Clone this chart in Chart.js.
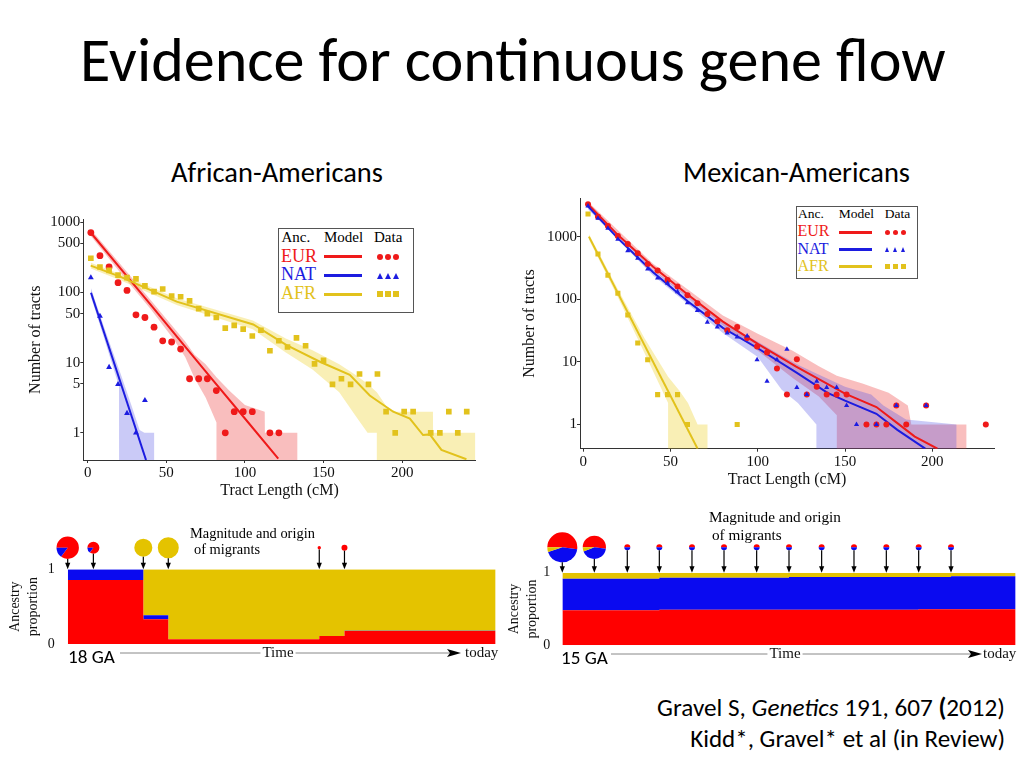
<!DOCTYPE html>
<html>
<head>
<meta charset="utf-8">
<script src="https://cdn.jsdelivr.net/npm/chart.js@4.4.1/dist/chart.umd.min.js"></script>
<style>
html, body { margin: 0; padding: 0; background: #fff; width: 1024px; height: 768px; overflow: hidden; position: relative; }
canvas { position: absolute; }
.txt { position: absolute; left: 0; top: 0; white-space: nowrap; line-height: 1; }
.box { position: absolute; border: 1px solid #555; background: #fff; box-sizing: border-box; }
.mk { position: absolute; }
</style>
</head>
<body>
<canvas id="aa_tracts" width="465" height="300" style="left:20px;top:205px"></canvas>
<canvas id="ma_tracts" width="490" height="300" style="left:515px;top:190px"></canvas>
<canvas id="aa_ancestry" width="510" height="180" style="left:0px;top:500px"></canvas>
<canvas id="ma_ancestry" width="519" height="180" style="left:505px;top:500px"></canvas>
<script>
// ---- African-Americans, tract length histogram (cM, counts) ----
const aa_bins = [2, 7.8, 13.6, 19.3, 25, 30.7, 36.4, 42.2, 47.7, 53.4, 59.1, 64.8, 70.6, 76.1, 81.8, 87.5, 93.2, 98.9, 104.7, 110.2, 115.9, 121.6, 127.1, 132.8, 138.6, 144.3, 150, 155.7, 161.4, 167.2, 172.9, 178.6, 184.3, 189.8, 195.6, 201.3, 207, 212.6, 218.2, 224, 229.7, 235.4, 241.1]
const aa_eur = [713, 335, 231, 138, 107, 48, 44, 32, 20.5, 19.7, 15.6, 5.9, 5.9, 5.9, 4, 1, 2, 2, 2, null, 1, 1]
const aa_nat = [163, 46, 8.6, 4.9, 1.9, 1, 2.9]
const aa_afr = [307, 231, 207, 177, 163, 156, 124, 103, 112, 89, 87, 76, 59, 50, 44, 31, 34, 30, 24, 29, 14.8, 20.5, 16.7, 22.6, 17.4, 9.6, 10.8, 4.9, 5.9, 4.9, 6.9, 4.9, 6.9, 2, 1, 2, 2, null, 1, 1, 2, 1, 2]

const aa_eur_model_x = [2, 20, 40, 60, 80, 100, 121.2]
const aa_eur_model = [710, 231, 67, 19.2, 5.5, 1.6, 0.43]
const aa_nat_model_x = [2.1, 37.1]
const aa_nat_model = [99, 0.41]
const aa_afr_model_x = [1.9, 20.6, 56.6, 105.3, 126.5, 147.7, 166.7, 179.4, 194.3, 204.9, 213.3, 217.6, 225, 240.9]
const aa_afr_model = [241, 168, 74, 35, 17.8, 10.3, 6.7, 3.4, 2, 1.6, 0.93, 0.95, 0.57, 0.42]

const aa_eur_band_x = [2, 20, 40, 55, 62, 68, 75, 81.9, 82, 90, 100, 112.6, 112.7, 133.5]
const aa_eur_band_hi = [790, 265, 78, 31, 20, 13, 9.5, 6.2, 6.2, 4, 2.5, 2, 1, 1]
const aa_eur_band_lo = [640, 200, 58, 21, 12, 6, 3.2, 1.4, 0.1, 0.1, 0.1, 0.1, 0.1, 0.1]
const aa_nat_band_x = [2.1, 10, 19.9, 20, 28, 33, 36, 42.4]
const aa_nat_band_hi = [115, 34, 8, 8, 2.4, 1.1, 1, 1]
const aa_nat_band_lo = [86, 24, 4.6, 0.1, 0.1, 0.1, 0.1, 0.1]
const aa_afr_band_x = [2, 20, 57, 105, 126, 143, 160, 170, 178, 183.9, 184, 190, 196, 219.6, 219.7, 246.6]
const aa_afr_band_hi = [265, 185, 82, 40, 22, 15, 9.5, 6.8, 5, 3.8, 3.8, 2.4, 2, 2, 1, 1]
const aa_afr_band_lo = [220, 152, 66, 30, 14, 8, 3.8, 1.8, 1, 1, 0.1, 0.1, 0.1, 0.1, 0.1, 0.1]

// ---- Mexican-Americans ----
const ma_bins = [2.7, 8.4, 14.1, 19.8, 25.5, 31.2, 36.9, 42.6, 48.3, 54, 59.7, 65.4, 71.1, 76.8, 82.5, 88.2, 93.9, 99.6, 105.3, 111, 116.7, 122.4, 128.1, 133.8, 139.5, 145.2, 150.9, 156.6, 162.3, 168, 173.7, 179.4, 185.1, 190.8, 196.5, 202.2, 207.9, 213.6, 219.3, 225, 230.7]
const ma_eur = [3280, 2080, 1480, 1025, 764, 542, 366, 287, 204, 160, 116, 86, 58, 44, 32, 36, 24, 17.6, 14.1, 7.8, 3, 11, 3, 4, 3, 3, 3, null, 1, 1, 1, 2, 1, null, 2, null, null, null, null, null, 1]
const ma_nat = [3080, 1960, 1360, 906, 598, 451, 305, 219, 180, 132, 88, 66, 43, 36, 29, 25, 26, 10.8, 4.9, 10.8, 15.9, 3.9, 3, 4.9, 3.9, 3.9, 2, 1, null, 1, null, 2, null, null, 2]
const ma_afr = [2300, 529, 242, 125, 56, 20, 10.8, 3, 3, 3, 1, null, null, null, null, 1]

const ma_eur_model_x = [2.7, 20, 40, 60, 80, 100, 122, 150, 168, 180, 190, 203]
const ma_eur_model = [3300, 1050, 330, 118, 44, 19.4, 8.4, 3.1, 1.9, 1.05, 0.64, 0.41]
const ma_nat_model_x = [2.7, 20, 40, 60, 80, 100, 122, 140, 150, 168, 180, 196]
const ma_nat_model = [3050, 930, 270, 92, 35, 16.5, 6.8, 3.2, 2.4, 1.48, 0.82, 0.41]
const ma_afr_model_x = [3.2, 65.5]
const ma_afr_model = [1000, 0.41]

const ma_eur_band_x = [2.7, 40, 80, 100, 120, 135, 145.3, 145.4, 160, 175, 186, 188, 219.7]
const ma_eur_band_hi = [3600, 370, 55, 28, 15, 8.5, 6, 6, 4.5, 3.2, 2, 1, 1]
const ma_eur_band_lo = [3000, 290, 38, 15, 5.5, 2.8, 1.4, 0.1, 0.1, 0.1, 0.1, 0.1, 0.1]
const ma_nat_band_x = [2.7, 40, 80, 100, 113.7, 123, 133.6, 133.7, 150, 165, 172, 185, 214]
const ma_nat_band_hi = [3400, 300, 42, 21, 12.5, 9, 6.5, 6.5, 4, 3, 2, 1.2, 1]
const ma_nat_band_lo = [2750, 240, 29, 12, 3.6, 2.2, 1, 0.1, 0.1, 0.1, 0.1, 0.1, 0.1]
const ma_afr_band_x = [3.2, 20, 35, 48.6, 48.7, 55, 60, 65.5, 71.3]
const ma_afr_band_hi = [1100, 140, 24, 5.8, 5.8, 3.5, 2.2, 1, 1]
const ma_afr_band_lo = [900, 105, 14, 2.2, 0.1, 0.1, 0.1, 0.1, 0.1]

// ---- ancestry proportions through time (generations ago) ----
const aa_gens = [18, 16.92, 14.82, 13.77, 7.42, 6.36, 0]
const aa_prop_eur = [0.857, 0.857, 0.33, 0.0625, 0.107, 0.174, 0.174]
const aa_prop_nat = [0.143, 0.143, 0.054, 0, 0, 0.004, 0.004]
const aa_prop_afr = [0, 0, 0.616, 0.9375, 0.893, 0.822, 0.822]
const aa_pulse_gens = [18, 16.92, 14.82, 13.77, 7.42, 6.36]
const aa_pulse_size = [1, 0.29, 0.65, 0.88, 0.023, 0.072]
const aa_pulse_eur = [0.85, 0.85, 0, 0, 1, 1]
const aa_pulse_nat = [0.15, 0.15, 0, 0, 0, 0]
const aa_pulse_afr = [0, 0, 1, 1, 0, 0]

const ma_gens = [15, 13.94, 12.85, 11.79, 10.71, 9.65, 8.57, 7.5, 6.42, 5.35, 4.28, 3.21, 2.14, 0]
const ma_prop_eur = [0.482, 0.482, 0.482, 0.49, 0.49, 0.49, 0.49, 0.49, 0.49, 0.49, 0.49, 0.495, 0.495, 0.495]
const ma_prop_nat = [0.433, 0.433, 0.433, 0.44, 0.44, 0.44, 0.44, 0.45, 0.45, 0.45, 0.45, 0.445, 0.455, 0.455]
const ma_prop_afr = [0.085, 0.085, 0.085, 0.07, 0.07, 0.07, 0.07, 0.06, 0.06, 0.06, 0.06, 0.06, 0.05, 0.05]
const ma_pulse_gens = [15, 13.94, 12.85, 11.79, 10.71, 9.65, 8.57, 7.5, 6.42, 5.35, 4.28, 3.21, 2.14]
const ma_pulse_size = [1, 0.6, 0.04, 0.04, 0.04, 0.04, 0.04, 0.04, 0.04, 0.04, 0.04, 0.04, 0.04]
const ma_pulse_eur = [0.52, 0.52, 0.5, 0.5, 0.5, 0.5, 0.5, 0.5, 0.5, 0.5, 0.5, 0.5, 0.5]
const ma_pulse_nat = [0.43, 0.42, 0.5, 0.5, 0.5, 0.5, 0.5, 0.5, 0.5, 0.5, 0.5, 0.5, 0.5]
const ma_pulse_afr = [0.05, 0.06, 0, 0, 0, 0, 0, 0, 0, 0, 0, 0, 0]

const SANS = 'Carlito, Lato, sans-serif'
const SERIF = '"Liberation Serif", "Times New Roman", serif'
const EUR_C = '#ef1a1a', NAT_C = '#1c1ce0', AFR_C = '#e2c21c'
const EUR_BAND = 'rgba(238,70,70,0.35)', NAT_BAND = 'rgba(80,80,230,0.30)', AFR_BAND = 'rgba(240,214,60,0.38)'
const BLOCK = ['#ff0000', '#0a0af0', '#e4c300']

const pts = (xs, ys) => ys.map((y, i) => y == null ? null : {x: xs[i], y: y}).filter(p => p)
const no_pad = s => { s.paddingTop = 0; s.paddingBottom = 0; s.paddingLeft = 0; s.paddingRight = 0 }

function tract_chart(id, o){
    const ds = []
    o.bands.forEach(b => {
        ds.push({data: pts(b[0], b[1]), fill: '+1', backgroundColor: b[3], borderWidth: 0, pointRadius: 0, order: 3})
        ds.push({data: pts(b[0], b[2]), fill: false, borderWidth: 0, pointRadius: 0, order: 3})
    })
    o.models.forEach(m => {
        ds.push({data: pts(m[0], m[1]), borderColor: m[2], borderWidth: 2, pointRadius: 0, fill: false, order: 2})
    })
    o.obs.forEach(s => {
        ds.push({data: pts(o.bins, s[0]), showLine: false, pointStyle: s[1], pointRadius: s[2],
            pointBackgroundColor: s[3], pointBorderWidth: 0, order: 1})
    })
    new Chart(document.getElementById(id), {
        type: 'line',
        data: {datasets: ds},
        options: {
            responsive: false, animation: false, events: [],
            layout: {padding: {top: o.pad_top, right: o.pad_right, left: 0, bottom: 0}},
            plugins: {legend: {display: false}, tooltip: {enabled: false}},
            scales: {
                x: {
                    type: 'linear', min: o.x_min, max: o.x_max,
                    afterBuildTicks: s => { s.ticks = [0, 50, 100, 150, 200].map(v => ({value: v})) },
                    afterFit: s => { s.height = o.x_h; no_pad(s) },
                    border: {color: '#333'},
                    grid: {drawOnChartArea: false, tickLength: 3, color: '#333'},
                    ticks: {font: {family: SERIF, size: 15, lineHeight: 1}, color: '#111', padding: 3, maxRotation: 0, autoSkip: false},
                    title: {display: true, text: 'Tract Length (cM)', color: '#111', font: {family: SERIF, size: 16}, padding: {top: 0, bottom: o.x_title_pad}}
                },
                y: {
                    type: 'logarithmic', min: o.y_min, max: o.y_max,
                    afterBuildTicks: s => { s.ticks = o.y_ticks.map(v => ({value: v})) },
                    afterFit: s => { s.width = o.y_w; no_pad(s) },
                    border: {color: '#333'},
                    grid: {drawOnChartArea: false, tickLength: 3, color: '#333'},
                    ticks: {font: {family: SERIF, size: 15, lineHeight: 1}, color: '#111', padding: 0, callback: v => String(v)},
                    title: {display: true, text: 'Number of tracts', color: '#111', font: {family: SERIF, size: 16}, padding: {top: o.y_title_pad, bottom: 0}}
                }
            }
        }
    })
}

tract_chart('aa_tracts', {
    bins: aa_bins,
    bands: [[aa_afr_band_x, aa_afr_band_hi, aa_afr_band_lo, AFR_BAND],
            [aa_eur_band_x, aa_eur_band_hi, aa_eur_band_lo, EUR_BAND],
            [aa_nat_band_x, aa_nat_band_hi, aa_nat_band_lo, NAT_BAND]],
    models: [[aa_afr_model_x, aa_afr_model, AFR_C], [aa_eur_model_x, aa_eur_model, EUR_C], [aa_nat_model_x, aa_nat_model, NAT_C]],
    obs: [[aa_afr, 'rect', 4, AFR_C], [aa_eur, 'circle', 3.4, EUR_C], [aa_nat, 'triangle', 3.4, NAT_C]],
    x_min: -2.8, x_max: 246.8, y_min: 0.41, y_max: 1100, y_ticks: [1, 5, 10, 50, 100, 500, 1000],
    pad_top: 14.4, pad_right: 9.3, x_h: 45, y_w: 63.3, x_title_pad: 5, y_title_pad: 6.5
})

tract_chart('ma_tracts', {
    bins: ma_bins,
    bands: [[ma_afr_band_x, ma_afr_band_hi, ma_afr_band_lo, AFR_BAND],
            [ma_nat_band_x, ma_nat_band_hi, ma_nat_band_lo, NAT_BAND],
            [ma_eur_band_x, ma_eur_band_hi, ma_eur_band_lo, EUR_BAND]],
    models: [[ma_afr_model_x, ma_afr_model, AFR_C], [ma_nat_model_x, ma_nat_model, NAT_C], [ma_eur_model_x, ma_eur_model, EUR_C]],
    obs: [[ma_afr, 'rect', 3.6, AFR_C], [ma_nat, 'triangle', 3, NAT_C], [ma_eur, 'circle', 3, EUR_C]],
    x_min: -1.9, x_max: 235.4, y_min: 0.41, y_max: 4100, y_ticks: [1, 10, 100, 1000],
    pad_top: 8.3, pad_right: 11, x_h: 41.3, y_w: 65, x_title_pad: 0.5, y_title_pad: 5.5
})

// pies + arrows above the ancestry blocks, and the time axis below
function pulses(p){
    return {
        id: 'pulses',
        afterDraw(chart){
            const {ctx, chartArea} = chart
            const xs = chart.scales.x
            const top = chartArea.top
            const cy = top - p.lift
            ctx.save()
            p.gens.forEach((g, i) => {
                const cx = xs.getPixelForValue(g)
                const r = p.r_max * Math.sqrt(p.size[i])
                let a = Math.PI
                ;[p.eur[i], p.nat[i], p.afr[i]].forEach((part, k) => {
                    if (!part) return
                    ctx.beginPath()
                    ctx.moveTo(cx, cy)
                    ctx.arc(cx, cy, r, a, a + part * 2 * Math.PI)
                    ctx.closePath()
                    ctx.fillStyle = BLOCK[k]
                    ctx.fill()
                    a += part * 2 * Math.PI
                })
                ctx.strokeStyle = '#000'
                ctx.lineWidth = 1.2
                ctx.beginPath()
                ctx.moveTo(cx, cy + r)
                ctx.lineTo(cx, top - 5)
                ctx.stroke()
                ctx.fillStyle = '#000'
                ctx.beginPath()
                ctx.moveTo(cx - 2.6, top - 6.5)
                ctx.lineTo(cx + 2.6, top - 6.5)
                ctx.lineTo(cx, top)
                ctx.closePath()
                ctx.fill()
            })
            // time arrow
            const t = p.time
            ctx.strokeStyle = '#888'
            ctx.lineWidth = 1
            ctx.beginPath()
            ctx.moveTo(t.from, t.y + 0.5)
            ctx.lineTo(t.head, t.y + 0.5)
            ctx.stroke()
            ctx.fillStyle = '#000'
            ctx.beginPath()
            ctx.moveTo(t.head - 3, t.y - 3.5)
            ctx.lineTo(t.tip, t.y + 0.5)
            ctx.lineTo(t.head - 3, t.y + 4.5)
            ctx.lineTo(t.head, t.y + 0.5)
            ctx.closePath()
            ctx.fill()
            ctx.font = '15px ' + SERIF
            ctx.textBaseline = 'alphabetic'
            const tw = ctx.measureText('Time').width
            ctx.fillStyle = '#fff'
            ctx.fillRect(t.mid - tw / 2 - 2, t.y - 8, tw + 4, 14)
            ctx.fillStyle = '#111'
            ctx.textAlign = 'center'
            ctx.fillText('Time', t.mid, t.base)
            ctx.textAlign = 'left'
            ctx.fillText('today', t.today, t.base)
            ctx.restore()
        }
    }
}

function ancestry_chart(id, o){
    const ds = [
        {data: pts(o.gens, o.eur), backgroundColor: BLOCK[0], fill: 'origin'},
        {data: pts(o.gens, o.nat), backgroundColor: BLOCK[1], fill: '-1'},
        {data: pts(o.gens, o.afr), backgroundColor: BLOCK[2], fill: '-1'}
    ].map(d => Object.assign(d, {stepped: true, borderWidth: 0, pointRadius: 0}))
    new Chart(document.getElementById(id), {
        type: 'line',
        data: {datasets: ds},
        options: {
            responsive: false, animation: false, events: [],
            layout: {padding: {top: o.pad_top, right: o.pad_right, left: 0, bottom: o.pad_bottom}},
            plugins: {legend: {display: false}, tooltip: {enabled: false}},
            scales: {
                x: {type: 'linear', reverse: true, min: 0, max: o.gens[0], display: false},
                y: {
                    stacked: true, min: 0, max: 1,
                    afterBuildTicks: s => { s.ticks = [{value: 0}, {value: 1}] },
                    afterFit: s => { s.width = o.y_w; no_pad(s) },
                    grid: {display: false}, border: {display: false},
                    ticks: {font: {family: SERIF, size: 14, lineHeight: 1}, color: '#111', padding: o.tick_pad},
                    title: {display: true, text: ['Ancestry', 'proportion'], color: '#111',
                        font: {family: SERIF, size: 14, lineHeight: 1.3}, padding: {top: o.title_pad, bottom: 0}}
                }
            }
        },
        plugins: [pulses(o.pulses)]
    })
}

ancestry_chart('aa_ancestry', {
    gens: aa_gens, eur: aa_prop_eur, nat: aa_prop_nat, afr: aa_prop_afr,
    pad_top: 69.3, pad_right: 14.3, pad_bottom: 36, y_w: 67.7, tick_pad: 5, title_pad: 6,
    pulses: {gens: aa_pulse_gens, size: aa_pulse_size, eur: aa_pulse_eur, nat: aa_pulse_nat, afr: aa_pulse_afr,
        r_max: 11.2, lift: 21.6,
        time: {from: 120, head: 450, tip: 461, y: 152.5, mid: 278, today: 465, base: 157}}
})

ancestry_chart('ma_ancestry', {
    gens: ma_gens, eur: ma_prop_eur, nat: ma_prop_nat, afr: ma_prop_afr,
    pad_top: 72.7, pad_right: 8.3, pad_bottom: 34.7, y_w: 57.3, tick_pad: 4, title_pad: 0,
    pulses: {gens: ma_pulse_gens, size: ma_pulse_size, eur: ma_pulse_eur, nat: ma_pulse_nat, afr: ma_pulse_afr,
        r_max: 15, lift: 25.4,
        time: {from: 106, head: 466, tip: 477, y: 153.5, mid: 280, today: 478, base: 158}}
})

// ---- slide text ----
function put(html, o){
    const d = document.createElement('div')
    d.className = 'txt'
    d.style.fontFamily = o.font
    d.style.fontSize = (o.size || 100) + 'px'
    d.style.color = o.color || '#000'
    d.innerHTML = html
    document.body.appendChild(d)
    let size = o.size || 100
    if (o.width){
        size = size * o.width / d.getBoundingClientRect().width
        d.style.fontSize = size + 'px'
    }
    const m = document.createElement('span')
    m.style.cssText = 'display:inline-block;width:0;height:0;vertical-align:baseline'
    d.appendChild(m)
    d.style.top = (o.base - m.offsetTop) + 'px'
    const w = d.getBoundingClientRect().width
    d.style.left = (o.align == 'right' ? o.x - w : o.x) + 'px'
    return size
}

put('Evidence for continuous gene flow', {font: SANS, x: 80, base: 81, width: 866})
put('African-Americans', {font: SANS, x: 171, base: 182, width: 212})
put('Mexican-Americans', {font: SANS, x: 683, base: 182, width: 227})
put('Gravel S, <i>Genetics</i> 191, 607 <b>(</b>2012)', {font: SANS, x: 1005, base: 716, width: 348, align: 'right'})
put('Kidd*, Gravel* et al (in Review)', {font: SANS, x: 1005, base: 747, width: 315, align: 'right'})
put('18 GA', {font: SANS, x: 68, base: 663, width: 47})
put('15 GA', {font: SANS, x: 561, base: 664, width: 47})

let mg = put('Magnitude and origin', {font: SERIF, x: 190, base: 537.5, width: 125})
put('of migrants', {font: SERIF, x: 194, base: 554, size: mg})
mg = put('Magnitude and origin', {font: SERIF, x: 709, base: 522, width: 132})
put('of migrants', {font: SERIF, x: 712, base: 540, size: mg})

// ---- legends ----
function box(x, y, w, h){
    const b = document.createElement('div')
    b.className = 'box'
    Object.assign(b.style, {left: x + 'px', top: y + 'px', width: w + 'px', height: h + 'px'})
    document.body.appendChild(b)
}
function mark(kind, cx, cy, s, color){
    const e = document.createElement('div')
    e.className = 'mk'
    if (kind == 'tri'){
        Object.assign(e.style, {left: (cx - s / 2) + 'px', top: (cy - s / 2) + 'px', width: 0, height: 0,
            borderLeft: (s / 2) + 'px solid transparent', borderRight: (s / 2) + 'px solid transparent',
            borderBottom: s + 'px solid ' + color})
    } else {
        Object.assign(e.style, {left: (cx - s / 2) + 'px', top: (cy - s / 2) + 'px', width: s + 'px', height: s + 'px',
            background: color, borderRadius: kind == 'dot' ? '50%' : '0'})
    }
    document.body.appendChild(e)
}
function legend(L){
    box(L.box[0], L.box[1], L.box[2], L.box[3])
    put('Anc.', {font: SERIF, x: L.col[0], base: L.head, size: L.head_size})
    put('Model', {font: SERIF, x: L.col[1], base: L.head, size: L.head_size})
    put('Data', {font: SERIF, x: L.col[2], base: L.head, size: L.head_size})
    const rows = [['EUR', EUR_C, 'dot'], ['NAT', NAT_C, 'tri'], ['AFR', AFR_C, 'sq']]
    rows.forEach((r, i) => {
        put(r[0], {font: SERIF, x: L.col[0] - 0.5, base: L.base[i], size: L.size, color: r[1]})
        const ln = document.createElement('div')
        ln.className = 'mk'
        Object.assign(ln.style, {left: L.line[0] + 'px', top: (L.mid[i] - 1.5) + 'px', width: (L.line[1] - L.line[0]) + 'px', height: '3px', background: r[1]})
        document.body.appendChild(ln)
        L.dots.forEach(x => mark(r[2], x, L.mid[i], L.mk, r[1]))
    })
}

legend({box: [278, 228, 136, 85], col: [281.5, 324, 374], head: 242, head_size: 15, size: 18,
    base: [261.5, 280, 299], mid: [256.6, 275.5, 294], line: [324, 362], dots: [380, 388, 396], mk: 6})
legend({box: [796, 206, 122, 73], col: [798, 838.7, 884.7], head: 218, head_size: 13.5, size: 16,
    base: [236, 253.6, 270.7], mid: [232, 249, 266.4], line: [838.7, 871.6], dots: [887, 895, 903.5], mk: 5})
</script>
</body>
</html>
